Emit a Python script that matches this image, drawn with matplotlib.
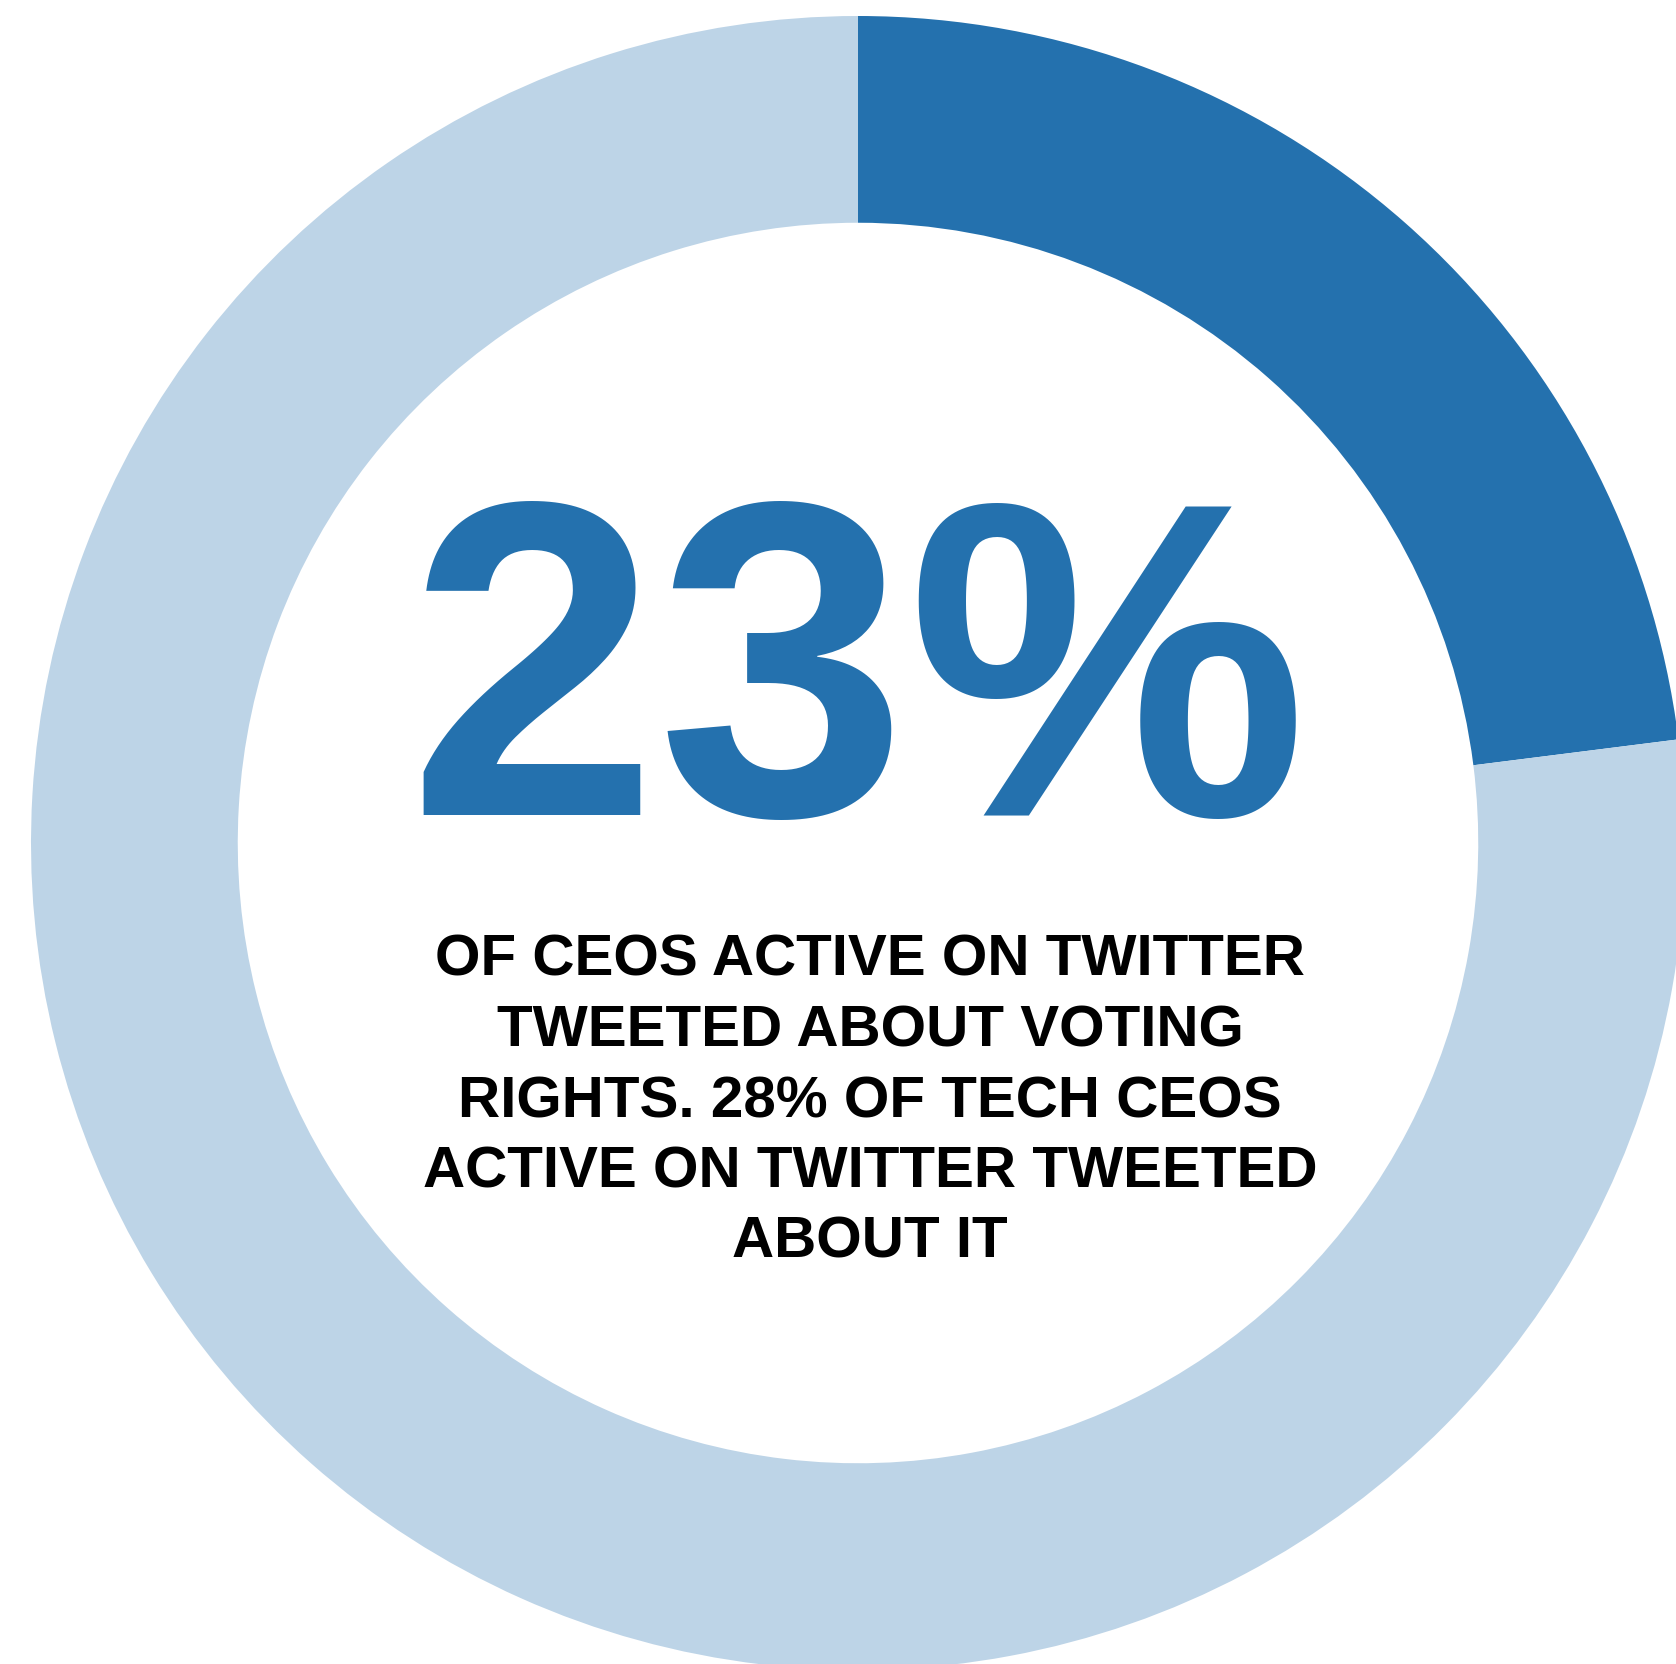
import matplotlib.pyplot as plt

# share of CEOs active on twitter who tweeted about voting rights
shares = [23, 77]
colors = ["#2471ae", "#bdd4e7"]

big_label = "23%"
caption_lines = [
    "OF CEOS ACTIVE ON TWITTER",
    "TWEETED ABOUT VOTING",
    "RIGHTS. 28% OF TECH CEOS",
    "ACTIVE ON TWITTER TWEETED",
    "ABOUT IT",
]

W, H = 1676, 1665
cx, cy = 858, H - 844
outer_r = 827

fig = plt.figure(figsize=(W / 100, H / 100), dpi=100)
ax = fig.add_axes([0, 0, 1, 1])

ax.pie(shares, colors=colors, startangle=90, counterclock=False,
       center=(cx, cy), radius=outer_r, frame=True,
       wedgeprops=dict(width=0.25 * outer_r, linewidth=0))

ax.set_xlim(0, W)
ax.set_ylim(0, H)
ax.set_aspect("equal")
ax.axis("off")

ax.text(cx, H - 815, big_label, ha="center", va="baseline",
        fontsize=324, fontweight="bold", color=colors[0],
        family="Liberation Sans")

# caption, one line at a time
for i, line in enumerate(caption_lines):
    ax.text(870, H - (976 + i * 70.5), line, ha="center", va="baseline",
            fontsize=42, fontweight="bold", color="black",
            family="Liberation Sans")

fig.savefig("out.png", dpi=100)
